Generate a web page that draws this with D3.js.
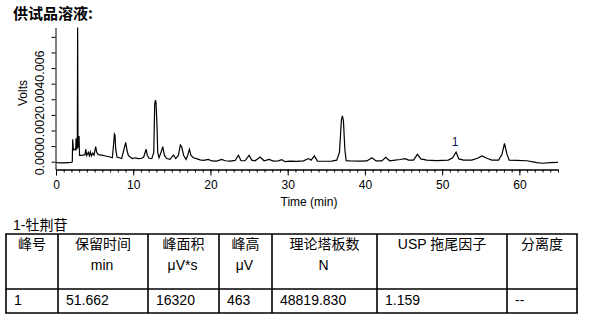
<!DOCTYPE html>
<html>
<head>
<meta charset="utf-8">
<script src="https://cdn.jsdelivr.net/npm/d3@7"></script>
<style>
  body { margin: 0; background: #fff; }
  svg text { font-family: "Liberation Sans", Arial, "Noto Sans CJK SC", sans-serif; }
</style>
</head>
<body>
<div id="chart"></div>
<script>
// Chromatogram of the sample solution

// retention time (min) and detector signal (Volts)
const times = [0.0, 0.5, 1.0, 1.5, 2.03, 2.11, 2.16, 2.25, 2.38, 2.55, 2.6, 2.68, 2.76, 2.8, 2.85, 2.92, 2.98, 3.05, 3.2, 3.5,
  3.76, 3.85, 3.98, 4.19, 4.32, 4.45, 4.58, 4.75, 4.92, 5.14, 5.27, 5.48, 5.92, 6.57, 7.0, 7.3, 7.47, 7.56, 7.64, 7.73,
  7.9, 8.2, 8.5, 8.7, 9.03, 9.2, 9.37, 9.59, 9.9, 10.24, 10.67, 11.1, 11.36, 11.66, 11.83, 12.05, 12.4, 12.66, 12.78, 12.87,
  12.95, 13.08, 13.17, 13.34, 13.6, 13.82, 14.04, 14.34, 14.77, 15.2, 15.5, 15.85, 16.1, 16.27, 16.53, 16.84, 17.05, 17.27, 17.48, 17.78,
  18.2, 18.65, 19.1, 19.73, 20.16, 20.8, 21.46, 21.9, 22.55, 23.2, 23.62, 23.96, 24.48, 25.0, 25.35, 25.78, 26.42, 26.94, 27.59, 28.15,
  28.8, 29.23, 29.66, 30.31, 31.17, 32.04, 32.69, 33.03, 33.46, 33.85, 34.63, 35.7, 36.35, 36.7, 36.96, 37.09, 37.22, 37.4, 37.57, 38.09,
  39.38, 40.25, 40.9, 41.45, 42.19, 42.7, 43.2, 43.93, 44.56, 45.2, 45.64, 46.29, 46.8, 47.23, 48.0, 49.3, 50.8, 51.36, 51.8, 52.16,
  52.76, 53.84, 54.57, 55.14, 55.79, 56.44, 57.3, 57.74, 58.07, 58.38, 58.68, 59.67, 60.97, 62.26, 63.04, 64.0, 65.0]
const volts = [-0.00005, -0.00007, -0.00008, -0.00006, -0.00005, 0.0, 0.00144, 0.00075, 0.0008, 0.00075, 0.0015, 0.0008, 0.0009, 0.0086, 0.0012, 0.0009, 0.00165, 0.0004, 0.0004, 0.00042,
  0.00045, 0.0008, 0.0004, 0.0006, 0.00038, 0.00062, 0.00038, 0.00055, 0.00042, 0.00096, 0.0006, 0.00045, 0.00042, 0.00035, 0.0003, 0.00025, 0.0012, 0.00177, 0.0017, 0.0008,
  0.0003, 0.00025, 0.0002, 0.0006, 0.00124, 0.0007, 0.0004, 0.0003, 0.0002, 0.00025, 0.0002, 0.00022, 0.0003, 0.0008, 0.0004, 0.00022, 0.0002, 0.0006, 0.0037, 0.00395,
  0.0038, 0.0023, 0.0006, 0.00025, 0.0006, 0.00096, 0.0004, 0.0002, 0.00015, 0.00043, 0.0002, 0.0004, 0.00107, 0.00095, 0.0004, 0.00015, 0.0004, 0.0008, 0.0004, 0.00025,
  0.0002, 0.00012, 0.00008, 0.00015, 0.00005, 0.00004, 0.00015, 0.00006, 0.00004, 0.00008, 0.00041, 0.00006, 0.00006, 0.00041, 0.0001, 0.00006, 0.0003, 0.00006, 0.00015, 0.00004,
  0.00005, 0.00013, 0.0, 0.00004, 0.00002, 0.00005, 0.0002, 0.0001, 0.00037, 0.00004, 0.00003, 0.00004, 0.0001, 0.0006, 0.0027, 0.00293, 0.0026, 0.0008, 0.00006, 0.00005,
  0.00004, 0.00005, 0.00025, 0.00005, 0.00005, 0.00028, 0.00006, 0.0001, 0.00014, 0.00019, 0.0001, 0.0001, 0.00047, 0.00018, 0.0001, 0.00007, 0.0001, 0.00025, 0.00062, 0.00018,
  0.0001, 0.0001, 0.00022, 0.00037, 0.00022, 0.0001, 0.0001, 0.00046, 0.00118, 0.0005, 0.0001, 0.00008, 0.00006, -0.00006, -0.0001, -0.00006, -0.00004]

// labelled peaks
const peakNames = ['1']
const peakTimes = [51.662]
const peakTops = [0.00062]

// axis ticks
const xMajorTicks = [0, 10, 20, 30, 40, 50, 60]
const yTicks = [0, 0.001, 0.002, 0.003, 0.004, 0.005, 0.006, 0.007, 0.008]
const yLabelTicks = [0, 0.002, 0.004, 0.006]

// results table
const tableTitle = '1-牡荆苷'
const headers = ['峰号', '保留时间', '峰面积', '峰高', '理论塔板数', 'USP 拖尾因子', '分离度']
const units = ['', 'min', 'μV*s', 'μV', 'N', '', '']
const rowValues = ['1', '51.662', '16320', '463', '48819.830', '1.159', '--']

var width = 592
var height = 321

var svg = d3.select('#chart')
  .append('svg')
  .attr('width', width)
  .attr('height', height)

// title
svg.append('text')
  .attr('x', 13)
  .attr('y', 19)
  .style('font-size', '15px')
  .style('font-weight', 'bold')
  .style('font-family', '"Noto Sans CJK SC", sans-serif')
  .text('供试品溶液:')

// scales
const xScale = d3.scaleLinear().domain([0, 65]).range([56, 558])
const yScale = d3.scaleLinear().domain([-0.0005, 0.0086]).range([169.5, 27.5])

// x axis: minor ticks every minute, labelled every 10
svg.append('g')
  .attr('transform', 'translate(0,169.5)')
  .call(d3.axisBottom(xScale).tickValues(d3.range(0, 66, 1)).tickSize(3).tickFormat('').tickSizeOuter(0))
svg.append('g')
  .attr('transform', 'translate(0,169.5)')
  .call(d3.axisBottom(xScale).tickValues(xMajorTicks).tickSize(6).tickPadding(5).tickSizeOuter(0))
  .call(g => g.selectAll('text').style('font-size', '12px').attr('fill', '#000'))

// y axis
svg.append('g')
  .attr('transform', 'translate(55.5,0)')
  .call(d3.axisLeft(yScale).tickValues(yTicks).tickSize(4).tickFormat('').tickSizeOuter(0))

svg.selectAll('.ylab')
  .data(yLabelTicks)
  .enter()
  .append('text')
  .attr('class', 'ylab')
  .attr('transform', (d) => `translate(43.5,${yScale(d) - 2}) rotate(-90)`)
  .attr('text-anchor', 'middle')
  .style('font-size', '12.5px')
  .text((d) => d3.format('.3f')(d))

// axis titles
svg.append('text')
  .attr('transform', 'translate(27,93) rotate(-90)')
  .attr('text-anchor', 'middle')
  .style('font-size', '12px')
  .text('Volts')
svg.append('text')
  .attr('x', 309)
  .attr('y', 206)
  .attr('text-anchor', 'middle')
  .style('font-size', '12px')
  .text('Time (min)')

// trace
const trace = times.map((t, i) => [t, volts[i]])
const line = d3.line()
  .x((d) => xScale(d[0]))
  .y((d) => yScale(d[1]))
svg.append('path')
  .datum(trace)
  .attr('d', line)
  .attr('fill', 'none')
  .attr('stroke', '#000')
  .attr('stroke-width', 1.2)

// peak labels
svg.selectAll('.peaklab')
  .data(peakNames)
  .enter()
  .append('text')
  .attr('class', 'peaklab')
  .attr('x', (d, i) => xScale(peakTimes[i]))
  .attr('y', (d, i) => yScale(peakTops[i]) - 6)
  .attr('text-anchor', 'middle')
  .attr('fill', '#14145a')
  .style('font-size', '12px')
  .text((d) => d)

// table
svg.append('text')
  .attr('x', 13)
  .attr('y', 230)
  .style('font-size', '14px')
  .text(tableTitle)

const colX = [6, 58, 148, 219, 272, 377, 507, 577]
const tTop = 234, tMid = 289, tBot = 313

var tbl = svg.append('g').attr('stroke', '#000').attr('stroke-width', 1.6)
;[tTop, tMid, tBot].forEach((y) => {
  tbl.append('line').attr('x1', colX[0] - 0.8).attr('x2', colX[colX.length - 1] + 0.8).attr('y1', y).attr('y2', y)
})
colX.forEach((x) => {
  tbl.append('line').attr('x1', x).attr('x2', x).attr('y1', tTop).attr('y2', tBot)
})

headers.forEach((h, i) => {
  const cx = (colX[i] + colX[i + 1]) / 2
  svg.append('text').attr('x', cx).attr('y', 248.5).attr('text-anchor', 'middle')
    .style('font-size', '14px').text(h)
  svg.append('text').attr('x', cx - 1).attr('y', 270).attr('text-anchor', 'middle')
    .style('font-size', '14px').text(units[i])
  svg.append('text').attr('x', colX[i] + 8).attr('y', 305)
    .style('font-size', '14px').text(rowValues[i])
})
</script>
</body>
</html>
